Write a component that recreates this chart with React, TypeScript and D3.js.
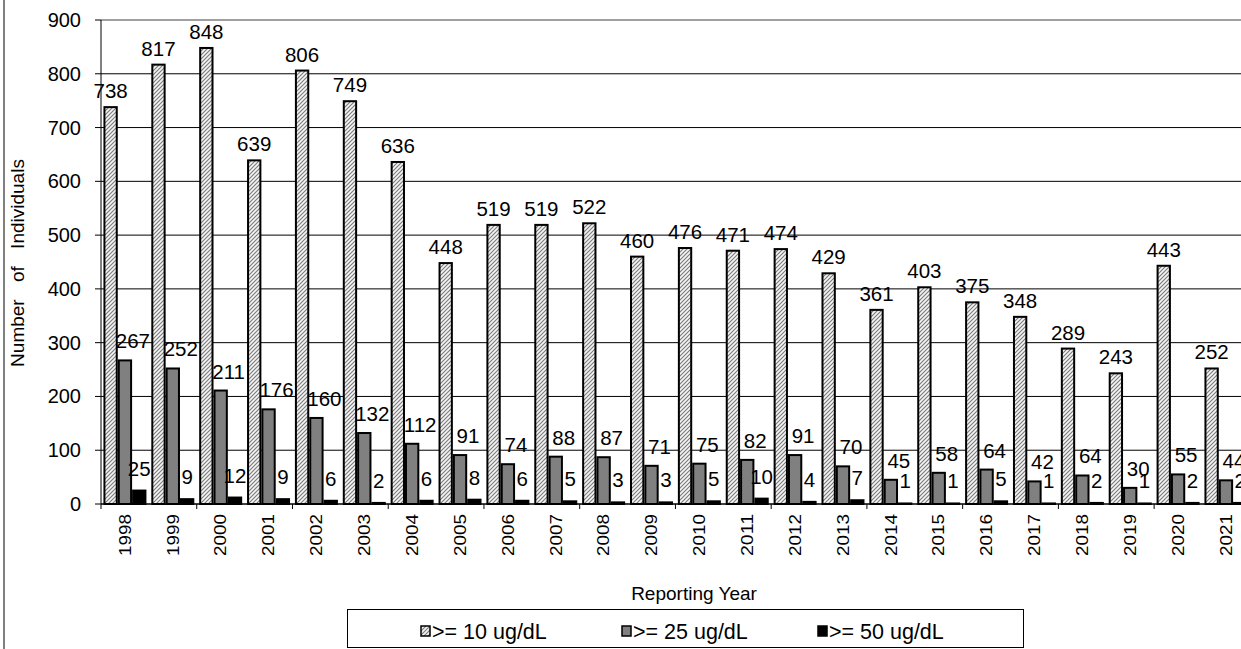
import React from 'react';
import * as d3 from 'd3';

const years = ['1998','1999','2000','2001','2002','2003','2004','2005','2006','2007','2008','2009','2010','2011','2012','2013','2014','2015','2016','2017','2018','2019','2020','2021'];
const ge10 = [738,817,848,639,806,749,636,448,519,519,522,460,476,471,474,429,361,403,375,348,289,243,443,252];
const ge25 = [267,252,211,176,160,132,112,91,74,88,87,71,75,82,91,70,45,58,64,42,53,30,55,44];
const ge25Printed = ['267','252','211','176','160','132','112','91','74','88','87','71','75','82','91','70','45','58','64','42','64','30','55','44'];
const ge50 = [25,9,12,9,6,2,6,8,6,5,3,3,5,10,4,7,1,1,5,1,2,1,2,2];
const yTicks = [0,100,200,300,400,500,600,700,800,900];
const seriesNames = ['>= 10 ug/dL','>= 25 ug/dL','>= 50 ug/dL'];
const yTitle = 'Number of Individuals';
const xTitle = 'Reporting Year';

const FONT = 'Arial, "Liberation Sans", Helvetica, sans-serif';

export default function App() {
  const W = 1241, H = 649;
  const left = 101, top = 20, bottom = 504;
  const step = 47.87;
  const right = left + step * years.length;

  const x = d3.scaleBand<string>().domain(years).range([left, right]).paddingInner(0.102).paddingOuter(0.051);
  const xs = d3.scaleBand<string>().domain(['a','b','c']).range([0, x.bandwidth()]);
  const y = d3.scaleLinear().domain([0, 900]).range([bottom, top]);

  const fills = ['url(#hatch)', '#808080', '#000000'];
  const series = [
    { key: 'a', values: ge10, labels: ge10.map(String), dx: 0, gap: 9 },
    { key: 'b', values: ge25, labels: ge25Printed, dx: 8, gap: 12 },
    { key: 'c', values: ge50, labels: ge50.map(String), dx: 0, gap: 15 },
  ];

  const legendItems = [
    { sx: 421, name: seriesNames[0], fill: fills[0] },
    { sx: 622, name: seriesNames[1], fill: fills[1] },
    { sx: 818, name: seriesNames[2], fill: fills[2] },
  ];

  return (
    <svg width={W} height={H} style={{ position: 'absolute', left: 0, top: 0, background: '#fff' }} fontFamily={FONT}>
      <defs>
        <pattern id="hatch" patternUnits="userSpaceOnUse" width="4" height="4">
          <rect width="4" height="4" fill="#f4f4f4" />
          <path d="M-1,1 l2,-2 M0,4 l4,-4 M3,5 l2,-2" stroke="#7a7a7a" strokeWidth="1.1" />
        </pattern>
      </defs>
      <rect x={0} y={0} width={W} height={H} fill="#fff" />
      {/* outer chart border */}
      <line x1={4} x2={4} y1={0} y2={H} stroke="#808080" strokeWidth={2} />

      {/* gridlines */}
      {yTicks.filter(t => t > 0).map(t => (
        <line key={'g' + t} x1={left} x2={W} y1={y(t)} y2={y(t)} stroke={t === 900 ? '#808080' : '#000'} strokeWidth={t === 900 ? 1.5 : 1} />
      ))}

      {/* y axis */}
      <line x1={left} x2={left} y1={top} y2={bottom} stroke="#000" strokeWidth={1} />
      {yTicks.map(t => (
        <g key={'yt' + t}>
          <line x1={left - 6} x2={left} y1={y(t)} y2={y(t)} stroke="#000" />
          <text x={81} y={y(t)} dy="0.35em" textAnchor="end" fontSize={20}>{t}</text>
        </g>
      ))}

      {/* bars */}
      {series.map((s, si) => (
        <g key={s.key}>
          {years.map((yr, i) => {
            const bx = (x(yr) as number) + (xs(s.key) as number);
            const bw = xs.bandwidth();
            return (
              <rect key={yr} x={bx + 1} y={y(s.values[i])} width={bw - 2} height={Math.max(0, bottom - y(s.values[i]))}
                fill={fills[si]} stroke="#000" strokeWidth={2} />
            );
          })}
        </g>
      ))}

      {/* x axis */}
      <line x1={left} x2={W} y1={bottom} y2={bottom} stroke="#000" strokeWidth={1.5} />
      {years.map((yr, i) => i % 2 === 0 ? (
        <line key={'xt' + yr} x1={(x(yr) as number) - x.step() * 0.051} x2={(x(yr) as number) - x.step() * 0.051} y1={bottom} y2={bottom + 5} stroke="#000" />
      ) : null)}
      {years.map(yr => {
        const cx = (x(yr) as number) + x.bandwidth() / 2;
        return (
          <text key={'xl' + yr} transform={`translate(${cx},${bottom + 10}) rotate(-90)`} dy="0.36em" textAnchor="end"
            fontSize={16} textLength={42} lengthAdjust="spacingAndGlyphs">{yr}</text>
        );
      })}

      {/* data labels */}
      {series.map(s => (
        <g key={'l' + s.key}>
          {years.map((yr, i) => {
            const cx = (x(yr) as number) + (xs(s.key) as number) + xs.bandwidth() / 2 + s.dx;
            return (
              <text key={yr} x={cx} y={y(s.values[i]) - s.gap} textAnchor="middle" fontSize={20.5}>{s.labels[i]}</text>
            );
          })}
        </g>
      ))}

      {/* axis titles */}
      <text transform={`translate(24,263) rotate(-90)`} textAnchor="middle" fontSize={19} wordSpacing={12}>{yTitle}</text>
      <text x={694} y={600} textAnchor="middle" fontSize={19}>{xTitle}</text>

      {/* legend */}
      <rect x={347.5} y={609.5} width={676} height={38} fill="#fff" stroke="#000" strokeWidth={1} />
      {legendItems.map(it => (
        <g key={it.name}>
          <rect x={it.sx} y={626} width={9} height={10} fill={it.fill} stroke="#000" strokeWidth={1.5} />
          <text x={it.sx + 11} y={631} dy="0.35em" fontSize={21.5}>{it.name}</text>
        </g>
      ))}
    </svg>
  );
}
